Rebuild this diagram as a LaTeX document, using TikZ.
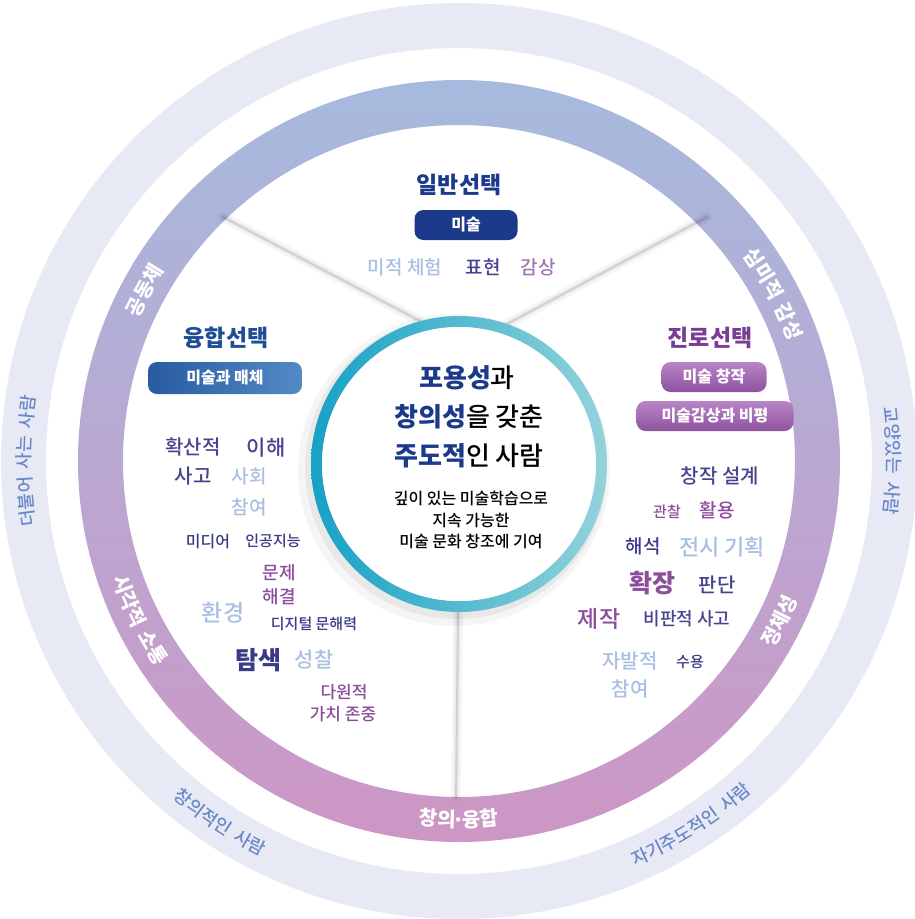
\documentclass[tikz,border=0pt]{standalone}
\usepackage{fontspec}
\setmainfont{Noto Sans CJK KR}
\IfFontExistsTF{Noto Sans CJK KR Medium}
  {\newfontfamily\medfont{Noto Sans CJK KR Medium}}
  {\newfontfamily\medfont{Noto Sans CJK KR}}
\usetikzlibrary{decorations.text}
\definecolor{navy}{HTML}{1B3A8B}
\definecolor{fuseblue}{HTML}{1E4E97}
\definecolor{careerpurple}{HTML}{7A3D96}
\definecolor{wordnavy}{HTML}{46438F}
\definecolor{deepnavy}{HTML}{3A3A86}
\definecolor{wordpurple}{HTML}{8C4D9C}
\definecolor{wordlight}{HTML}{A9BFE4}
\definecolor{appreciate}{HTML}{A374B5}
\definecolor{outerring}{HTML}{E7EAF5}
\definecolor{outertext}{HTML}{6B87C9}
\definecolor{bandtop}{HTML}{A6BADE}
\definecolor{bandmid}{HTML}{B7ADD5}
\definecolor{bandbottom}{HTML}{CD96C5}
\definecolor{tealdark}{HTML}{16A1C5}
\definecolor{teallight}{HTML}{93D3DB}
\definecolor{pillblueL}{HTML}{2A5BA1}
\definecolor{pillblueR}{HTML}{528AC5}
\definecolor{pillpurpT}{HTML}{B985C6}
\definecolor{pillpurpB}{HTML}{8E539F}
\tikzset{kw/.style={inner sep=0pt, font=\medfont\fontsize{#1}{#1}\selectfont}}
\tikzset{head/.style={inner sep=0pt, font=\bfseries\fontsize{#1}{#1}\selectfont}}
\tikzset{pill/.style={rounded corners=9pt, inner sep=0pt, minimum height=30pt, text=white, font=\bfseries\fontsize{16}{16}\selectfont}}
\tikzset{crease/.style={line cap=round}}
% text on the rings: clockwise (tops outward) and counterclockwise (tops inward)
\newcommand\cwtext[4]{\path[decorate,decoration={text along path,text align=center,text color=#4,text={#3}}] (C) ++(#1+45:#2pt) arc[start angle=#1+45,end angle=#1-45,radius=#2pt];}
\newcommand\ccwtext[4]{\path[decorate,decoration={text along path,text align=center,text color=#4,text={#3}}] (C) ++(#1-45:#2pt) arc[start angle=#1-45,end angle=#1+45,radius=#2pt];}
\newcommand\gap{{\makebox[7pt]{}}}

\begin{document}
\begin{tikzpicture}[x=1pt,y=1pt]
    \useasboundingbox (0,0) rectangle (915,-919);
    \fill[white] (0,0) rectangle (915,-919);
    \coordinate (C) at (459,-461);
    \coordinate (IC) at (459,-464);

    % rings
    \fill[outerring, even odd rule] (C) circle[radius=458pt] (C) circle[radius=413pt];
    \shade[top color=bandtop, middle color=bandmid, bottom color=bandbottom, even odd rule]
        (C) circle[radius=381pt] (C) circle[radius=336pt];

    % sector creases
    \coordinate (ulA) at (223,-217);
    \coordinate (ulB) at (420,-321);
    \coordinate (urA) at (707,-217);
    \coordinate (urB) at (507,-324);
    \coordinate (btA) at (458,-612);
    \coordinate (btB) at (456,-797);
    \foreach \a/\b in {ulA/ulB, urA/urB, btA/btB} {
        \draw[crease, line width=10pt, black, opacity=0.035] (\a) -- (\b);
        \draw[crease, line width=5pt, black, opacity=0.05] (\a) -- (\b);
        \draw[crease, line width=1.8pt, black, opacity=0.11] (\a) -- (\b);
    }

    % centre circle with soft shadow
    \fill[black, opacity=0.04] ([shift={(-5,-6)}]IC) circle[radius=156pt];
    \fill[black, opacity=0.05] ([shift={(-3,-4)}]IC) circle[radius=151pt];
    \shade[left color=tealdark, right color=teallight, even odd rule]
        (IC) circle[radius=148pt] (IC) circle[radius=137pt];
    \fill[white] (IC) circle[radius=137pt];

    \node[kw=26] (core1) at (467,-378) {\textcolor{navy}{\bfseries 포용성}과};
    \node[kw=26] (core2) at (469,-417) {\textcolor{navy}{\bfseries 창의성}을 갖춘};
    \node[kw=26] (core3) at (469,-456) {\textcolor{navy}{\bfseries 주도적}인 사람};
    \node[kw=16] (sub1) at (471,-498) {깊이 있는 미술학습으로};
    \node[kw=16] (sub2) at (471,-520) {지속 가능한};
    \node[kw=16] (sub3) at (471,-541) {미술 문화 창조에 기여};

    % general
    \node[head=23, text=navy] (gen) at (459,-185) {일반선택};
    \node[pill, fill=navy, minimum width=103pt] (genpill) at (466,-225) {미술};
    \node[kw=19, text=wordlight] (genw1) at (405,-267) {미적 체험};
    \node[kw=19, text=wordnavy] (genw2) at (483,-267) {표현};
    \node[kw=19, text=appreciate] (genw3) at (538,-267) {감상};

    % fusion
    \node[head=23, text=fuseblue] (fus) at (226,-338) {융합선택};
    \node[pill, left color=pillblueL, right color=pillblueR, minimum width=154pt, minimum height=32pt] (fuspill) at (225,-378) {미술과 매체};
    \node[kw=20, text=wordnavy] (fw1) at (193,-447) {확산적};
    \node[kw=21, text=wordnavy] (fw2) at (266,-448) {이해};
    \node[kw=20, text=wordnavy] (fw3) at (193,-476) {사고};
    \node[kw=19, text=wordlight] (fw4) at (249,-476) {사회};
    \node[kw=19, text=wordlight] (fw5) at (249,-507) {참여};
    \node[kw=16, text=deepnavy] (fw6) at (208,-542) {미디어};
    \node[kw=15, text=deepnavy] (fw7) at (273,-541) {인공지능};
    \node[kw=18, text=wordpurple] (fw8) at (279,-573) {문제};
    \node[kw=18, text=wordpurple] (fw9) at (279,-597) {해결};
    \node[kw=23, text=wordlight] (fw10) at (223,-613) {환경};
    \node[kw=15, text=deepnavy] (fw11) at (314,-624) {디지털 문해력};
    \node[head=25, text=deepnavy] (fw12) at (258,-660) {탐색};
    \node[kw=21, text=wordlight] (fw13) at (314,-660) {성찰};
    \node[kw=17, text=wordpurple] (fw14) at (344,-692) {다원적};
    \node[kw=17, text=wordpurple] (fw15) at (343,-714) {가치 존중};

    % career
    \node[head=23, text=careerpurple] (car) at (710,-338) {진로선택};
    \node[pill, top color=pillpurpT, bottom color=pillpurpB, minimum width=105pt] (carpill1) at (714,-377) {미술 창작};
    \node[pill, top color=pillpurpT, bottom color=pillpurpB, minimum width=157pt] (carpill2) at (715,-416) {미술감상과 비평};
    \node[kw=20, text=wordnavy] (cw1) at (720,-476) {창작 설계};
    \node[kw=15, text=wordpurple] (cw2) at (667,-512) {관찰};
    \node[kw=19, text=wordpurple] (cw3) at (717,-510) {활용};
    \node[kw=19, text=deepnavy] (cw4) at (643,-546) {해석};
    \node[kw=22, text=wordlight] (cw5) at (722,-547) {전시 기획};
    \node[head=25, text=wordpurple] (cw6) at (652,-583) {확장};
    \node[kw=20, text=wordnavy] (cw7) at (717,-585) {판단};
    \node[kw=23, text=wordpurple] (cw8) at (599,-619) {제작};
    \node[kw=18, text=wordnavy] (cw9) at (687,-619) {비판적 사고};
    \node[kw=20, text=wordlight] (cw10) at (630,-661) {자발적};
    \node[kw=20, text=wordlight] (cw11) at (630,-689) {참여};
    \node[kw=15, text=deepnavy] (cw12) at (690,-662) {수용};

    % ring labels
    \cwtext{151.5}{351}{|\bfseries\fontsize{20}{20}\selectfont|공동체}{white}
    \cwtext{28}{351}{|\bfseries\fontsize{20}{20}\selectfont|심미적\gap 감성}{white}
    \ccwtext{206.5}{366}{|\bfseries\fontsize{20}{20}\selectfont|시각적\gap 소통}{white}
    \ccwtext{333.5}{366}{|\bfseries\fontsize{20}{20}\selectfont|정체성}{white}
    \ccwtext{270}{366}{|\bfseries\fontsize{20}{20}\selectfont|창의{\makebox[7pt]{·}}융합}{white}
    \cwtext{180}{428}{|\medfont\fontsize{18}{18}\selectfont|더불어\gap 사는\gap 사람}{outertext}
    \cwtext{0}{428}{|\medfont\fontsize{18}{18}\selectfont|교양있는\gap 사람}{outertext}
    \ccwtext{236.5}{442}{|\medfont\fontsize{18}{18}\selectfont|창의적인\gap 사람}{outertext}
    \ccwtext{302.5}{442}{|\medfont\fontsize{18}{18}\selectfont|자기주도적인\gap 사람}{outertext}
\end{tikzpicture}
\end{document}
